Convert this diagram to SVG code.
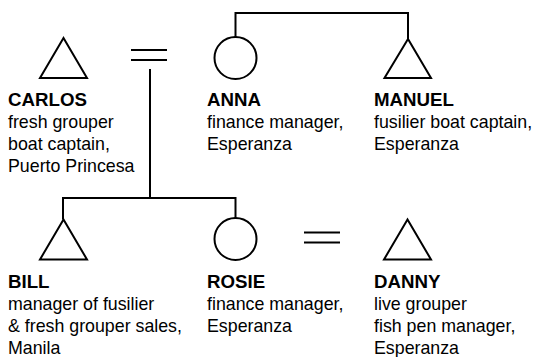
<svg xmlns="http://www.w3.org/2000/svg" width="536" height="357" viewBox="0 0 536 357">
<style>
.s{fill:none;stroke:#000;stroke-width:2}
text{font-family:"Liberation Sans",Arial,sans-serif;font-size:17.8px;fill:#000}
.n{font-weight:bold;font-size:18.7px}
</style>
<rect width="536" height="357" fill="#fff"/>
<g id="connectors" class="s">
<path d="M235.5 37 V13 H408 V39"/>
<path d="M131 50 H167 M131 60 H167"/>
<path d="M150 69 V198 M63 219.5 V198 H235.5 V218"/>
<path d="M304 232.5 H340 M304 242.5 H340"/>
</g>
<g id="carlos">
<polygon class="s" points="63.5,38 40,78 87,78"/>
<text x="8" y="105.5" class="n">CARLOS</text>
<text x="8" y="127.5">fresh grouper</text>
<text x="8" y="149.5">boat captain,</text>
<text x="8" y="171.5">Puerto Princesa</text>
</g>
<g id="anna">
<circle class="s" cx="235.5" cy="58" r="21"/>
<text x="207" y="105.5" class="n">ANNA</text>
<text x="207" y="127.5">finance manager,</text>
<text x="207" y="149.5">Esperanza</text>
</g>
<g id="manuel">
<polygon class="s" points="408,39 384.5,78 431,78"/>
<text x="374" y="105.5" class="n">MANUEL</text>
<text x="374" y="127.5">fusilier boat captain,</text>
<text x="374" y="149.5">Esperanza</text>
</g>
<g id="bill">
<polygon class="s" points="63.5,219.5 40,259.5 87,259.5"/>
<text x="8" y="288" class="n">BILL</text>
<text x="8" y="310">manager of fusilier</text>
<text x="8" y="332">&amp; fresh grouper sales,</text>
<text x="8" y="353.5">Manila</text>
</g>
<g id="rosie">
<circle class="s" cx="235.5" cy="239" r="21"/>
<text x="207" y="288" class="n">ROSIE</text>
<text x="207" y="310">finance manager,</text>
<text x="207" y="332">Esperanza</text>
</g>
<g id="danny">
<polygon class="s" points="407.5,219.5 384,259.5 431,259.5"/>
<text x="374" y="288" class="n">DANNY</text>
<text x="374" y="310">live grouper</text>
<text x="374" y="332">fish pen manager,</text>
<text x="374" y="353.5">Esperanza</text>
</g>
</svg>
